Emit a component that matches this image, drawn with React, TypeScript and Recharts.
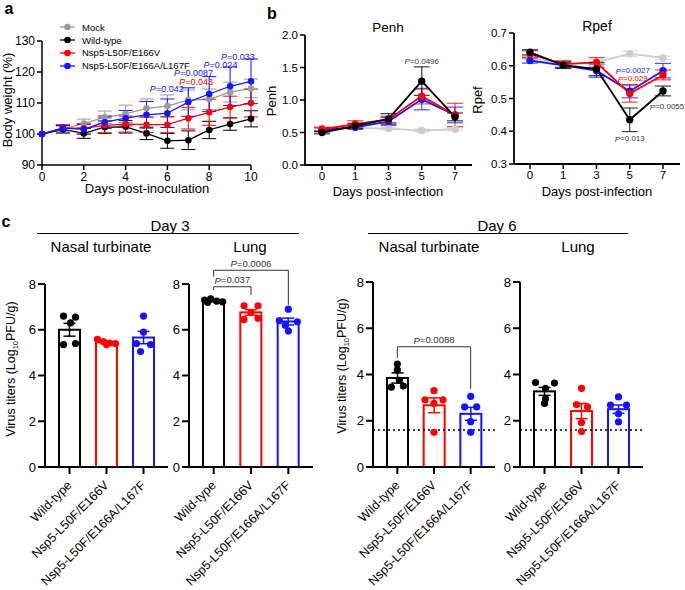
import React from 'react';
import {
  LineChart, Line, XAxis, YAxis, ErrorBar, ReferenceDot, ReferenceLine, Legend,
  ComposedChart, Bar,
} from 'recharts';

const FONT = '"Liberation Sans", Arial, Helvetica, sans-serif';
const BLACK = '#000000';
const RED = '#ff0000';
const BLUE = '#1414ff';
const GRAY_A = '#9a9a9a';
const GRAY_B = '#cccccc';
const PGRAY = '#333333';

// ---------- Panel a: body weight ----------
const DAYS_A = [0, 1, 2, 3, 4, 5, 6, 7, 8, 9, 10];
const MOCK_A = [100, 101.6, 103.4, 105.4, 106.5, 108.3, 109, 111, 111.2, 113.5, 114.7];
const MOCK_A_ERR = [0, 1.2, 1.4, 2.0, 2.8, 3.0, 3.6, 3.2, 3.3, 3.2, 3.0];
const WT_A = [100, 101.5, 100.2, 102.2, 102.3, 100.2, 97.8, 98, 101.3, 103.2, 104.9];
const WT_A_ERR = [0, 1.2, 1.6, 2.0, 2.0, 2.0, 2.4, 3.0, 2.8, 2.0, 2.6];
const RED_A = [100, 102, 101.8, 102.8, 103.2, 103, 103, 105.1, 107, 108.7, 110];
const RED_A_ERR = [0, 1.0, 1.5, 2.4, 2.6, 2.5, 2.6, 3.5, 4.2, 3.5, 4.5];
const BLUE_A = [100, 101.9, 101.5, 103.8, 105.1, 106.2, 106.7, 110.3, 112.9, 115.4, 117];
const BLUE_A_ERR = [0, 0.8, 1.6, 2.0, 2.5, 4.3, 4.6, 4.6, 5.6, 6.2, 7.2];
const TICKS_A_X = [0, 2, 4, 6, 8, 10];
const TICKS_A_Y = [90, 100, 110, 120, 130];
const P_A = [
  { x: 5.97, y: 114.5, p: '0.042', c: BLUE },
  { x: 7.25, y: 119.7, p: '0.0087', c: BLUE },
  { x: 7.37, y: 116.9, p: '0.043', c: RED },
  { x: 8.54, y: 122.2, p: '0.024', c: BLUE },
  { x: 9.37, y: 124.9, p: '0.033', c: BLUE },
];

// ---------- Panel b: Penh / Rpef ----------
const DAYS_B = ['0', '1', '3', '5', '7'];
const MOCK_P = [0.57, 0.57, 0.56, 0.53, 0.55];
const MOCK_P_ERR = [0.03, 0.02, 0.02, 0.02, 0.02];
const WT_P = [0.5, 0.6, 0.71, 1.29, 0.74];
const WT_P_ERR = [0.02, 0.04, 0.08, 0.22, 0.06];
const RED_P = [0.55, 0.63, 0.7, 1.06, 0.77];
const RED_P_ERR = [0.03, 0.05, 0.05, 0.12, 0.18];
const BLUE_P = [0.54, 0.58, 0.67, 1.01, 0.77];
const BLUE_P_ERR = [0.03, 0.03, 0.06, 0.16, 0.12];
const TICKS_P = [0, 0.5, 1, 1.5, 2];
const P_PENH = [{ x: '5', y: 1.6, p: '0.0496', c: PGRAY, dx: 0 }];

const MOCK_R = [0.625, 0.605, 0.61, 0.637, 0.624];
const MOCK_R_ERR = [0.005, 0.01, 0.01, 0.008, 0.005];
const WT_R = [0.641, 0.602, 0.59, 0.435, 0.523];
const WT_R_ERR = [0.008, 0.01, 0.02, 0.036, 0.015];
const RED_R = [0.636, 0.605, 0.61, 0.515, 0.572];
const RED_R_ERR = [0.01, 0.01, 0.015, 0.026, 0.015];
const BLUE_R = [0.616, 0.601, 0.585, 0.522, 0.585];
const BLUE_R_ERR = [0.008, 0.008, 0.02, 0.02, 0.022];
const TICKS_R = [0.3, 0.4, 0.5, 0.6, 0.7];
const P_RPEF = [
  { x: '5', y: 0.585, p: '0.0027', c: BLUE, dx: 3 },
  { x: '5', y: 0.56, p: '0.029', c: RED, dx: 3 },
  { x: '7', y: 0.475, p: '0.0055', c: PGRAY, dx: 4 },
  { x: '5', y: 0.377, p: '0.013', c: PGRAY, dx: 0 },
];

// ---------- Panel c: virus titers ----------
const GROUPS = ['Wild-type', 'Nsp5-L50F/E166V', 'Nsp5-L50F/E166A/L167F'];
const GROUP_COLORS = [BLACK, RED, BLUE];
const TICKS_C = [0, 2, 4, 6, 8];

const D3NT_MEAN = [6.0, 5.45, 5.66];
const D3NT_SEM = [0.28, 0.04, 0.27];
const D3NT_PTS = [
  [6.6, 6.55, 6.3, 5.35, 5.4],
  [5.58, 5.48, 5.42, 5.4, 5.35],
  [6.6, 5.9, 5.4, 5.35, 5.05],
];
const D3LU_MEAN = [7.26, 6.76, 6.36];
const D3LU_SEM = [0.04, 0.12, 0.15];
const D3LU_PTS = [
  [7.35, 7.3, 7.25, 7.22, 7.2],
  [7.05, 7.05, 6.75, 6.45, 6.5],
  [6.9, 6.4, 6.35, 6.2, 5.95],
];
const D6NT_MEAN = [3.85, 2.67, 2.3];
const D6NT_SEM = [0.22, 0.32, 0.28];
const D6NT_PTS = [
  [4.45, 4.2, 3.75, 3.45, 3.5],
  [3.3, 2.9, 2.9, 2.75, 1.5],
  [3.05, 2.6, 2.6, 1.96, 1.5],
];
const D6LU_MEAN = [3.27, 2.42, 2.5];
const D6LU_SEM = [0.17, 0.33, 0.18];
const D6LU_PTS = [
  [3.65, 3.63, 3.4, 2.95, 2.75],
  [3.4, 2.7, 2.6, 1.92, 1.53],
  [3.03, 2.68, 2.68, 2.3, 1.95],
];
const DETECTION_LIMIT = 1.6;

const D3LU_BRACKETS = [
  { from: 0, to: 1, y: 7.88, yFrom: 7.74, yTo: 7.52, p: '0.037' },
  { from: 0, to: 2, y: 8.6, yFrom: 8.32, yTo: 7.09, p: '0.0006' },
];
const D6NT_BRACKETS = [{ from: 0, to: 2, y: 5.2, yFrom: 4.72, yTo: 3.38, p: '0.0088' }];

// horizontal spread of dots within a bar (pixels), layout only
const JIT_D3NT = [[-6, 6, 1, -6, 6], [-9, -3, 3, 9, 0], [0, 0, -7, 7, -3]];
const JIT_D3LU = [[-3, -9, 3, 9, -6], [-7, 7, 0, -7, 7], [0, -9, 9, -3, 0]];
const JIT_D6NT = [[0, 0, 2, -6, 6], [0, -9, 9, 0, 0], [0, -6, 6, 0, 0]];
const JIT_D6LU = [[-9, 10, 1, 1, 0], [0, -5, 6, 0, 0], [0, -8, 8, 0, 0]];

// ---------- helpers ----------
const PText = ({ x, y, p, color, size, anchor }: any) => (
  <text x={x} y={y} fill={color} fontSize={size} textAnchor={anchor || 'middle'}
    dominantBaseline="central" fontFamily={FONT}>
    <tspan fontStyle="italic">P</tspan>={p}
  </text>
);

const Txt = ({ x, y, size, children, rot, bold, color }: any) => (
  <div style={{
    position: 'absolute', left: x, top: y,
    transform: `translate(-50%,-50%)${rot ? ` rotate(${rot}deg)` : ''}`,
    fontSize: size, fontWeight: bold ? 700 : 400, whiteSpace: 'nowrap', lineHeight: 1,
    color: color || '#000', fontFamily: FONT,
  }}>{children}</div>
);

const HLine = ({ x1, x2, y }: any) => (
  <div style={{ position: 'absolute', left: x1, top: y, width: x2 - x1, height: 0, borderTop: '1.5px solid #000' }} />
);

const axisStyle = (w: number) => ({ stroke: '#000', strokeWidth: w });

// ---------- panel a ----------
const SERIES_A = [
  { key: 'mock', name: 'Mock', color: GRAY_A, v: MOCK_A, e: MOCK_A_ERR },
  { key: 'wt', name: 'Wild-type', color: BLACK, v: WT_A, e: WT_A_ERR },
  { key: 'red', name: 'Nsp5-L50F/E166V', color: RED, v: RED_A, e: RED_A_ERR },
  { key: 'blue', name: 'Nsp5-L50F/E166A/L167F', color: BLUE, v: BLUE_A, e: BLUE_A_ERR },
];
const DATA_A = DAYS_A.map((d, i) => {
  const row: any = { day: d };
  SERIES_A.forEach((s) => { row[s.key] = s.v[i]; row[s.key + 'Err'] = s.e[i]; });
  return row;
});

const LegendA = () => (
  <div style={{ fontFamily: FONT, fontSize: 9.5, color: '#000' }}>
    {SERIES_A.map((s) => (
      <div key={s.key} style={{ display: 'flex', alignItems: 'center', height: 12.8 }}>
        <svg width={24} height={10} style={{ display: 'block' }}>
          <line x1={2} x2={17} y1={5} y2={5} stroke={s.color} strokeWidth={1.3} />
          <circle cx={9.5} cy={5} r={3.3} fill={s.color} />
        </svg>
        <span>{s.name}</span>
      </div>
    ))}
  </div>
);

const PanelA = () => (
  <div style={{ position: 'absolute', left: 0, top: 0 }}>
    <LineChart width={262} height={200} data={DATA_A} margin={{ top: 41, right: 11, left: 12, bottom: 15 }}>
      <XAxis dataKey="day" type="number" domain={[0, 10]} ticks={TICKS_A_X} height={20}
        axisLine={axisStyle(1.5)} tickLine={axisStyle(1.5)} tickSize={5}
        tick={{ fill: '#000', fontSize: 12, fontFamily: FONT }} />
      <YAxis domain={[90, 130]} ticks={TICKS_A_Y} width={30}
        axisLine={axisStyle(1.5)} tickLine={axisStyle(1.5)} tickSize={5}
        tick={{ fill: '#000', fontSize: 12, fontFamily: FONT }} />
      {SERIES_A.map((s) => (
        <Line key={s.key} dataKey={s.key} stroke={s.color} strokeWidth={1.3} isAnimationActive={false}
          dot={{ r: 3.3, fill: s.color, stroke: s.color, strokeWidth: 0 }} activeDot={false}>
          <ErrorBar dataKey={s.key + 'Err'} width={7} stroke={s.color} strokeWidth={1} direction="y" />
        </Line>
      ))}
      {P_A.map((a, i) => (
        <ReferenceDot key={i} x={a.x} y={a.y} r={1} ifOverflow="visible"
          shape={(dp: any) => <PText x={dp.cx} y={dp.cy} p={a.p} color={a.c} size={9} />} />
      ))}
      <Legend layout="vertical" align="center" verticalAlign="middle" content={<LegendA />}
        wrapperStyle={{ left: 58, top: 21, width: 170, height: 54 }} />
    </LineChart>
  </div>
);

// ---------- panel b ----------
const makeRows = (m: number[], me: number[], w: number[], we: number[], r: number[], re: number[], b: number[], be: number[]) =>
  DAYS_B.map((d, i) => ({
    day: d, mock: m[i], mockErr: me[i], wt: w[i], wtErr: we[i],
    red: r[i], redErr: re[i], blue: b[i], blueErr: be[i],
  }));
const DATA_PENH = makeRows(MOCK_P, MOCK_P_ERR, WT_P, WT_P_ERR, RED_P, RED_P_ERR, BLUE_P, BLUE_P_ERR);
const DATA_RPEF = makeRows(MOCK_R, MOCK_R_ERR, WT_R, WT_R_ERR, RED_R, RED_R_ERR, BLUE_R, BLUE_R_ERR);
const SERIES_B = [
  { key: 'mock', color: GRAY_B },
  { key: 'blue', color: BLUE },
  { key: 'red', color: RED },
  { key: 'wt', color: BLACK },
];

const RespChart = ({ left, width, data, domain, ticks, margin, yWidth, pad, annots }: any) => (
  <div style={{ position: 'absolute', left, top: 0 }}>
    <LineChart width={width} height={200} data={data} margin={margin}>
      <XAxis dataKey="day" type="category" interval={0} height={20} padding={pad}
        axisLine={axisStyle(1.8)} tickLine={axisStyle(1.5)} tickSize={5}
        tick={{ fill: '#000', fontSize: 11.5, fontFamily: FONT }} />
      <YAxis domain={domain} ticks={ticks} width={yWidth} tickFormatter={(v: number) => v.toFixed(1)}
        axisLine={axisStyle(1.8)} tickLine={axisStyle(1.5)} tickSize={5}
        tick={{ fill: '#000', fontSize: 11.5, fontFamily: FONT }} />
      {SERIES_B.map((s) => (
        <Line key={s.key} dataKey={s.key} stroke={s.color} strokeWidth={1.8} isAnimationActive={false}
          dot={{ r: 3.7, fill: s.color, stroke: s.color, strokeWidth: 0 }} activeDot={false}>
          <ErrorBar dataKey={s.key + 'Err'} width={8} stroke={s.color} strokeOpacity={0.75} strokeWidth={1.2} direction="y" />
        </Line>
      ))}
      {annots.map((a: any, i: number) => (
        <ReferenceDot key={i} x={a.x} y={a.y} r={1} ifOverflow="visible"
          shape={(dp: any) => <PText x={dp.cx + a.dx} y={dp.cy} p={a.p} color={a.c} size={8} />} />
      ))}
    </LineChart>
  </div>
);

// ---------- panel c ----------
const BarShape = (props: any) => {
  const { x, y, width, height, index, payload } = props;
  const color = GROUP_COLORS[index];
  const e = payload.sem * (height / payload.mean);
  const cx = x + width / 2;
  return (
    <g>
      <rect x={x + 1} y={y} width={width - 2} height={height} fill="#fff" stroke={color} strokeWidth={2} />
      <line x1={cx} x2={cx} y1={y - e} y2={y + e} stroke={color} strokeWidth={1.5} />
      <line x1={cx - 6} x2={cx + 6} y1={y - e} y2={y - e} stroke={color} strokeWidth={1.5} />
      <line x1={cx - 6} x2={cx + 6} y1={y + e} y2={y + e} stroke={color} strokeWidth={1.5} />
    </g>
  );
};

const RotTick = (p: any) => (
  <g transform={`translate(${p.x + 3},${p.y + 10})`}>
    <text x={0} y={0} textAnchor="end" transform="rotate(-45)" fontSize={12.5} fontFamily={FONT} fill="#000">
      {p.payload.value}
    </text>
  </g>
);

const TiterChart = ({ left, width, margin, yWidth, means, sems, pts, jit, brackets, lod }: any) => {
  const data = GROUPS.map((g, i) => {
    const row: any = { name: g, mean: means[i], sem: sems[i] };
    pts[i].forEach((v: number, k: number) => { row['p' + k] = v; });
    return row;
  });
  return (
    <div style={{ position: 'absolute', left, top: 250 }}>
      <ComposedChart width={width} height={340} data={data} margin={margin}>
        <XAxis dataKey="name" type="category" interval={0} height={110} padding={{ left: 6, right: 6 }}
          axisLine={axisStyle(2)} tickLine={axisStyle(2)} tickSize={7} tick={<RotTick />} />
        <YAxis domain={[0, 8]} ticks={TICKS_C} width={yWidth}
          axisLine={axisStyle(2)} tickLine={axisStyle(2)} tickSize={7}
          tick={{ fill: '#000', fontSize: 13, fontFamily: FONT }} />
        {lod ? (
          <ReferenceLine y={DETECTION_LIMIT} stroke="#000" strokeWidth={1.6} strokeDasharray="2 3" ifOverflow="visible" />
        ) : null}
        <Bar dataKey="mean" barSize={23} isAnimationActive={false} shape={<BarShape />} />
        {[0, 1, 2, 3, 4].map((k) => (
          <Line key={k} dataKey={'p' + k} stroke="none" isAnimationActive={false} activeDot={false}
            dot={(dp: any) => (
              <circle key={`d${k}-${dp.index}`} cx={dp.cx + jit[dp.index][k]} cy={dp.cy} r={3.6}
                fill={GROUP_COLORS[dp.index]} />
            )} />
        ))}
        {(brackets || []).map((b: any, i: number) => [
          <ReferenceLine key={`h${i}`} ifOverflow="visible"
            segment={[{ x: GROUPS[b.from], y: b.y }, { x: GROUPS[b.to], y: b.y }]}
            shape={(lp: any) => (
              <g>
                <line x1={lp.x1} y1={lp.y1} x2={lp.x2} y2={lp.y2} stroke={PGRAY} strokeWidth={1} />
                <PText x={(lp.x1 + lp.x2) / 2} y={lp.y1 - 7} p={b.p} color={PGRAY} size={9.5} />
              </g>
            )} />,
          <ReferenceLine key={`l${i}`} ifOverflow="visible" stroke={PGRAY} strokeWidth={1}
            segment={[{ x: GROUPS[b.from], y: b.yFrom }, { x: GROUPS[b.from], y: b.y }]} />,
          <ReferenceLine key={`r${i}`} ifOverflow="visible" stroke={PGRAY} strokeWidth={1}
            segment={[{ x: GROUPS[b.to], y: b.yTo }, { x: GROUPS[b.to], y: b.y }]} />,
        ])}
      </ComposedChart>
    </div>
  );
};

const VirusLabel = ({ x, y }: any) => (
  <Txt x={x} y={y} size={12.5} rot={-90}>
    Virus titers (Log<span style={{ fontSize: 7.5, position: 'relative', top: 3 }}>10</span>PFU/g)
  </Txt>
);

export default function App() {
  return (
    <div style={{ position: 'absolute', left: 0, top: 0, width: 685, height: 590, background: '#fff', fontFamily: FONT, overflow: 'hidden' }}>
      {/* panel a */}
      <Txt x={9} y={9} size={16} bold>a</Txt>
      <PanelA />
      <Txt x={7} y={100} size={13} rot={-90}>Body weight (%)</Txt>
      <Txt x={147} y={188} size={13}>Days post-inoculation</Txt>

      {/* panel b */}
      <Txt x={272} y={14} size={16} bold>b</Txt>
      <Txt x={388} y={28} size={13.5}>Penh</Txt>
      <Txt x={597} y={26} size={14}>Rpef</Txt>
      <RespChart left={255} width={220} data={DATA_PENH} domain={[0, 2]} ticks={TICKS_P}
        margin={{ top: 35, right: 3, left: 20, bottom: 15 }} yWidth={30} pad={{ left: 17, right: 17 }} annots={P_PENH} />
      <RespChart left={470} width={215} data={DATA_RPEF} domain={[0.3, 0.7]} ticks={TICKS_R}
        margin={{ top: 33, right: 5, left: 14, bottom: 16 }} yWidth={30} pad={{ left: 16, right: 17 }} annots={P_RPEF} />
      <Txt x={271} y={101} size={13} rot={-90}>Penh</Txt>
      <Txt x={477} y={100} size={13} rot={-90}>Rpef</Txt>
      <Txt x={388} y={191} size={13}>Days post-infection</Txt>
      <Txt x={597} y={191} size={13}>Days post-infection</Txt>

      {/* panel c */}
      <Txt x={6} y={222} size={16} bold>c</Txt>
      <Txt x={170} y={225} size={15}>Day 3</Txt>
      <HLine x1={37} x2={299} y={233} />
      <Txt x={101} y={246} size={15}>Nasal turbinate</Txt>
      <Txt x={250} y={246} size={15}>Lung</Txt>
      <Txt x={497} y={225} size={15}>Day 6</Txt>
      <HLine x1={368} x2={628} y={233} />
      <Txt x={429} y={246} size={15}>Nasal turbinate</Txt>
      <Txt x={578} y={246} size={15}>Lung</Txt>

      <TiterChart left={0} width={175} margin={{ top: 34, right: 7, left: 15, bottom: 13 }} yWidth={30}
        means={D3NT_MEAN} sems={D3NT_SEM} pts={D3NT_PTS} jit={JIT_D3NT} />
      <TiterChart left={160} width={160} margin={{ top: 34, right: 7, left: 0, bottom: 13 }} yWidth={29}
        means={D3LU_MEAN} sems={D3LU_SEM} pts={D3LU_PTS} jit={JIT_D3LU} brackets={D3LU_BRACKETS} />
      <TiterChart left={330} width={175} margin={{ top: 32, right: 10, left: 13, bottom: 13 }} yWidth={30}
        means={D6NT_MEAN} sems={D6NT_SEM} pts={D6NT_PTS} jit={JIT_D6NT} brackets={D6NT_BRACKETS} lod />
      <TiterChart left={495} width={160} margin={{ top: 32, right: 12, left: 0, bottom: 13 }} yWidth={25}
        means={D6LU_MEAN} sems={D6LU_SEM} pts={D6LU_PTS} jit={JIT_D6LU} lod />
      <VirusLabel x={11} y={369} />
      <VirusLabel x={342} y={366} />
    </div>
  );
}
